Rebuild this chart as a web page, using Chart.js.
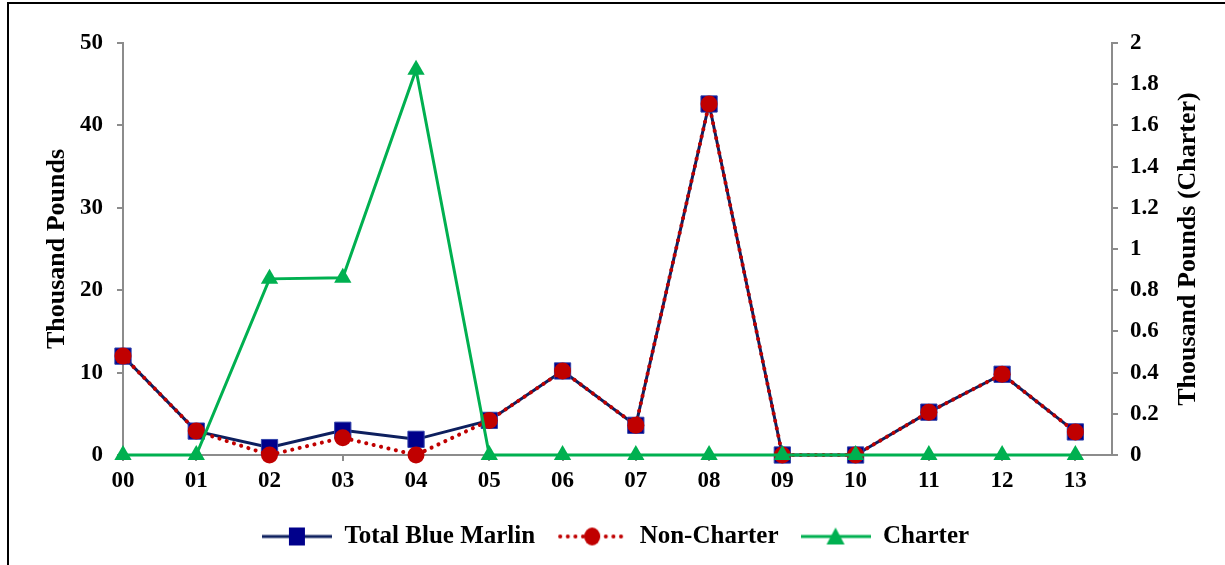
<!DOCTYPE html>
<html>
<head>
<meta charset="utf-8">
<script src="https://cdn.jsdelivr.net/npm/chart.js@4/dist/chart.umd.min.js"></script>
<style>
    body { margin: 0; background: #fff; }
    #wrap { position: relative; width: 1225px; height: 565px; overflow: hidden; }
    #frame { position: absolute; left: 7px; top: 2px; width: 1400px; height: 700px;
             border-left: 2px solid #000; border-top: 2px solid #000; }
    #chart { position: absolute; left: 0; top: 0; }
</style>
</head>
<body>
<div id="wrap">
    <div id="frame"></div>
    <canvas id="chart" width="1225" height="565"></canvas>
</div>
<script>
// Años (00 - 13)
const years = ['00', '01', '02', '03', '04', '05', '06', '07', '08', '09', '10', '11', '12', '13'];

// Miles de libras (eje izquierdo)
const totalBlueMarlin = [12.0, 2.9, 0.9, 3.0, 1.9, 4.2, 10.2, 3.6, 42.6, 0, 0, 5.2, 9.8, 2.8];
const nonCharter = [12.0, 2.9, 0.0, 2.1, 0.0, 4.2, 10.2, 3.6, 42.6, 0, 0, 5.2, 9.8, 2.8];

// Miles de libras (eje derecho, Charter)
const charter = [0, 0, 0.855, 0.86, 1.87, 0, 0, 0, 0, 0, 0, 0, 0, 0];

const leftTicks = [0, 10, 20, 30, 40, 50];
const rightTicks = [0, 0.2, 0.4, 0.6, 0.8, 1, 1.2, 1.4, 1.6, 1.8, 2];

const leftTitle = 'Thousand Pounds';
const rightTitle = 'Thousand Pounds (Charter)';

const NAVY = '#0d1f5e';
const NAVY_FILL = '#00008b';
const RED = '#c00000';
const GREEN = '#00b050';
const AXIS = '#8c8c8c';
const FONT = '"Liberation Serif", "Times New Roman", serif';

Chart.defaults.font.family = FONT;
Chart.defaults.font.weight = 'bold';
Chart.defaults.color = '#000';

function toPoints(values) {
    return values.map((v, i) => ({ x: i, y: v }));
}

// Símbolo de leyenda: línea + marcador
function legendSymbol(color, dotted, drawMarker) {
    const c = document.createElement('canvas');
    c.width = 70;
    c.height = 24;
    const g = c.getContext('2d');
    g.strokeStyle = color;
    g.lineWidth = dotted ? 4 : 3;
    g.lineCap = dotted ? 'round' : 'butt';
    if (dotted) g.setLineDash([0.1, 7.5]);
    g.beginPath();
    g.moveTo(dotted ? 3 : 0, 12);
    g.lineTo(dotted ? 67 : 70, 12);
    g.stroke();
    g.setLineDash([]);
    drawMarker(g, 35, 12);
    return c;
}

const symTotal = legendSymbol(NAVY, false, (g, x, y) => {
    g.fillStyle = NAVY_FILL;
    g.fillRect(x - 8, y - 9, 16, 18);
});
const symNon = legendSymbol(RED, true, (g, x, y) => {
    g.fillStyle = RED;
    g.beginPath();
    g.ellipse(x, y, 8, 9, 0, 0, Math.PI * 2);
    g.fill();
});
const symCharter = legendSymbol(GREEN, false, (g, x, y) => {
    g.fillStyle = GREEN;
    g.beginPath();
    g.moveTo(x, y - 9);
    g.lineTo(x + 9, y + 8);
    g.lineTo(x - 9, y + 8);
    g.closePath();
    g.fill();
});

// Título del eje derecho, leído de abajo hacia arriba
const rightTitlePlugin = {
    id: 'rightTitle',
    afterDraw(chart) {
        const s = chart.scales.y2;
        const ctx = chart.ctx;
        ctx.save();
        ctx.translate(s.right - 13, (chart.chartArea.top + chart.chartArea.bottom) / 2);
        ctx.rotate(-Math.PI / 2);
        ctx.font = 'bold 26px ' + FONT;
        ctx.fillStyle = '#000';
        ctx.textAlign = 'center';
        ctx.textBaseline = 'middle';
        ctx.fillText(rightTitle, 0, 0);
        ctx.restore();
    }
};

const axisGrid = {
    drawOnChartArea: false,
    tickLength: 6,
    color: AXIS,
    lineWidth: 2
};

new Chart(document.getElementById('chart'), {
    type: 'line',
    data: {
        datasets: [
            {
                label: 'Total Blue Marlin',
                data: toPoints(totalBlueMarlin),
                yAxisID: 'y',
                borderColor: NAVY,
                borderWidth: 3,
                pointStyle: 'rect',
                pointRadius: 11.5,
                pointBackgroundColor: NAVY_FILL,
                pointBorderColor: '#3344aa',
                pointBorderWidth: 1,
                legendSymbol: symTotal,
                order: 3
            },
            {
                label: 'Non-Charter',
                data: toPoints(nonCharter),
                yAxisID: 'y',
                borderColor: RED,
                borderWidth: 4,
                borderDash: [0.1, 7.5],
                borderCapStyle: 'round',
                pointStyle: 'circle',
                pointRadius: 8.5,
                pointBackgroundColor: RED,
                pointBorderColor: RED,
                pointBorderWidth: 0,
                legendSymbol: symNon,
                order: 2
            },
            {
                label: 'Charter',
                data: toPoints(charter),
                yAxisID: 'y2',
                borderColor: GREEN,
                borderWidth: 3,
                pointStyle: 'triangle',
                pointRadius: 10,
                pointBackgroundColor: GREEN,
                pointBorderColor: GREEN,
                pointBorderWidth: 0,
                legendSymbol: symCharter,
                order: 1
            }
        ]
    },
    options: {
        responsive: false,
        animation: false,
        clip: false,
        tension: 0,
        layout: { padding: { left: 30, right: 24, top: 43, bottom: 6 } },
        plugins: {
            tooltip: { enabled: false },
            legend: {
                position: 'bottom',
                labels: {
                    usePointStyle: true,
                    pointStyleWidth: 70,
                    padding: 22,
                    font: { size: 25, weight: 'bold' },
                    generateLabels(chart) {
                        return chart.data.datasets.map((ds, i) => ({
                            text: ds.label,
                            pointStyle: ds.legendSymbol,
                            datasetIndex: i,
                            hidden: false,
                            lineWidth: 0,
                            fontColor: '#000'
                        }));
                    }
                }
            }
        },
        scales: {
            x: {
                type: 'linear',
                min: 0,
                max: 13.5,
                grid: axisGrid,
                border: { color: AXIS, width: 2 },
                afterFit(scale) { scale.height = 47; },
                ticks: {
                    stepSize: 1,
                    includeBounds: false,
                    autoSkip: false,
                    maxRotation: 0,
                    padding: 6,
                    font: { size: 23, weight: 'bold' },
                    callback: v => Number.isInteger(v) ? years[v] : ''
                }
            },
            y: {
                position: 'left',
                min: leftTicks[0],
                max: leftTicks[leftTicks.length - 1],
                grid: axisGrid,
                border: { color: AXIS, width: 2 },
                afterFit(scale) { scale.width = 93; },
                afterBuildTicks(scale) { scale.ticks = leftTicks.map(v => ({ value: v })); },
                title: {
                    display: true,
                    text: leftTitle,
                    font: { size: 26, weight: 'bold' },
                    padding: { top: 12, bottom: 0 }
                },
                ticks: {
                    padding: 14,
                    font: { size: 23, weight: 'bold' }
                }
            },
            y2: {
                position: 'right',
                min: rightTicks[0],
                max: rightTicks[rightTicks.length - 1],
                grid: axisGrid,
                border: { color: AXIS, width: 2 },
                afterFit(scale) { scale.width = 89; },
                afterBuildTicks(scale) { scale.ticks = rightTicks.map(v => ({ value: v })); },
                ticks: {
                    padding: 12,
                    font: { size: 23, weight: 'bold' },
                    callback: v => String(Math.round(v * 10) / 10)
                }
            }
        }
    },
    plugins: [rightTitlePlugin]
});
</script>
</body>
</html>
